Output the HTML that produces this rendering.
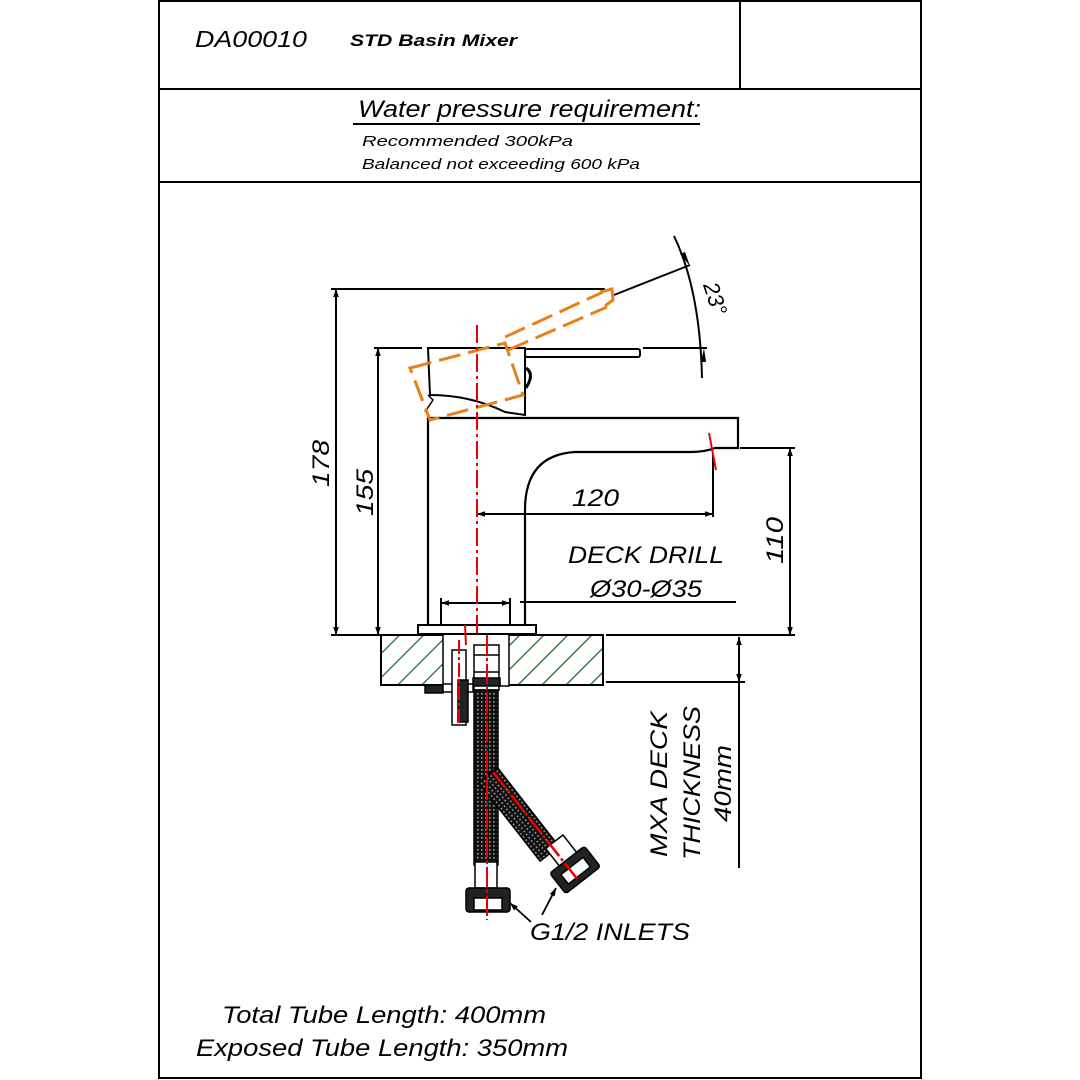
<!DOCTYPE html>
<html><head><meta charset="utf-8"><style>
html,body{margin:0;padding:0;background:#fff}
svg{display:block}
text{font-family:"Liberation Sans",Arial,sans-serif;font-style:italic}
</style></head><body>
<svg width="1080" height="1080" viewBox="0 0 1080 1080" xmlns="http://www.w3.org/2000/svg">
<defs>
<pattern id="hatch" width="17" height="17" patternUnits="userSpaceOnUse" patternTransform="rotate(45)">
<line x1="0" y1="0" x2="0" y2="17" stroke="#16602a" stroke-width="2.4"/>
</pattern>
<pattern id="mesh" width="4" height="4" patternUnits="userSpaceOnUse">
<rect width="4" height="4" fill="#111"/><rect x="1" y="1" width="1.6" height="1.6" fill="#999"/>
</pattern>
<marker id="ar" viewBox="0 0 10 10" refX="10" refY="5" markerWidth="14" markerHeight="8" orient="auto-start-reverse" markerUnits="userSpaceOnUse">
<path d="M0,1.5 L10,5 L0,8.5 z" fill="#000"/>
</marker>
</defs>

<!-- frame -->
<g stroke="#000" stroke-width="2" fill="none">
<rect x="159" y="1" width="762" height="1077"/>
<line x1="159" y1="89" x2="921" y2="89"/>
<line x1="159" y1="182" x2="921" y2="182"/>
<line x1="740" y1="1" x2="740" y2="89"/>
</g>
<text x="195" y="47" font-size="23" textLength="112" lengthAdjust="spacingAndGlyphs">DA00010</text>
<text x="350" y="46" font-size="17" font-weight="bold" textLength="167" lengthAdjust="spacingAndGlyphs">STD Basin Mixer</text>
<text x="358" y="117" font-size="24" textLength="343" lengthAdjust="spacingAndGlyphs">Water pressure requirement:</text>
<line x1="353" y1="124" x2="700" y2="124" stroke="#000" stroke-width="2"/>
<text x="362" y="146" font-size="15" textLength="211" lengthAdjust="spacingAndGlyphs">Recommended 300kPa</text>
<text x="362" y="169" font-size="15" textLength="278" lengthAdjust="spacingAndGlyphs">Balanced not exceeding 600 kPa</text>

<!-- deck -->
<rect x="381" y="635" width="222" height="50" fill="url(#hatch)" stroke="#000" stroke-width="2"/>
<rect x="443" y="634" width="66" height="52" fill="#fff" stroke="#000" stroke-width="1.5"/>

<g stroke="#000" fill="none" stroke-width="2">
<!-- extension lines -->
<line x1="331" y1="289" x2="605" y2="289"/>
<line x1="374" y1="348" x2="422" y2="348"/>
<line x1="643" y1="348" x2="707" y2="348"/>
<line x1="331" y1="635" x2="418" y2="635"/>
<line x1="606" y1="635" x2="795" y2="635"/>
<line x1="606" y1="682" x2="745" y2="682"/>
<line x1="740" y1="448" x2="795" y2="448"/>
<line x1="713" y1="455" x2="713" y2="517"/>
<line x1="520" y1="602" x2="736" y2="602"/>
<line x1="441" y1="598" x2="441" y2="625"/>
<line x1="510" y1="598" x2="510" y2="625"/>
<!-- dimension lines -->
<line x1="336" y1="289" x2="336" y2="635" marker-start="url(#ar)" marker-end="url(#ar)"/>
<line x1="378" y1="348" x2="378" y2="635" marker-start="url(#ar)" marker-end="url(#ar)"/>
<line x1="477" y1="514" x2="713" y2="514" marker-start="url(#ar)" marker-end="url(#ar)"/>
<line x1="790" y1="448" x2="790" y2="635" marker-start="url(#ar)" marker-end="url(#ar)"/>
<line x1="441" y1="603" x2="510" y2="603" marker-start="url(#ar)" marker-end="url(#ar)"/>
<line x1="739" y1="637" x2="739" y2="682" marker-start="url(#ar)" marker-end="url(#ar)"/>
<line x1="739" y1="682" x2="739" y2="868"/>
<!-- angle -->
<line x1="614" y1="295" x2="690" y2="265"/>
<path d="M674,236 Q700,290 702,378"/>
<path d="M690,266 l-10,-12 l5,-2 z" fill="#000" stroke="none"/>
<path d="M704,348 l-3,14 l5,0 z" fill="#000" stroke="none"/>

<!-- body -->
<path d="M428,630 L428,418 L738,418 L738,448 L715,448 Q705,452 690,452 L575,452 Q525,455 525,510 L525,628" stroke-width="2.2"/>
<rect x="418" y="625" width="118" height="9" fill="#fff"/>
<!-- handle -->
<path d="M428,348 L525,348 L525,415 L505,412 Q470,395 430,395 Z" fill="#fff"/>
<path d="M428,395 L433,400 L425,412" stroke-width="1.5"/>
<rect x="525" y="349" width="115" height="8" rx="2"/>
<path d="M526,368 q9,6 0,20" stroke-width="3"/>
</g>

<!-- orange lever -->
<g stroke="#e9801c" stroke-width="3" fill="none" stroke-dasharray="22,8">
<path d="M410,368 L505,343 L523,395 L430,420 Z"/>
<line x1="505" y1="337" x2="603" y2="292"/>
<line x1="508" y1="350" x2="607" y2="307"/>
<path d="M600,292 L612,289 L613,300 L605,306" stroke-dasharray="none"/>
</g>

<!-- red centerline -->
<line x1="477" y1="325" x2="477" y2="635" stroke="#e00" stroke-width="2" stroke-dasharray="18,4,3,4"/>
<line x1="709" y1="433" x2="716" y2="470" stroke="#e00" stroke-width="2"/>

<!-- tubes -->
<g stroke="#000" stroke-width="1.5">
<rect x="474" y="645" width="25" height="45" fill="#fff"/>
<line x1="474" y1="655" x2="499" y2="655"/><line x1="474" y1="672" x2="499" y2="672"/>
<rect x="473" y="678" width="27" height="8" fill="#222"/>
<rect x="474" y="690" width="24" height="175" fill="url(#mesh)"/>
<g transform="rotate(-38 488 775)"><rect x="476" y="775" width="24" height="100" fill="url(#mesh)"/></g>
<rect x="475" y="862" width="22" height="26" fill="#fff"/>
<rect x="466" y="888" width="44" height="24" fill="#222" rx="3"/>
<rect x="474" y="898" width="28" height="12" fill="#fff"/>
<g transform="rotate(-38 572 866)">
<rect x="562" y="836" width="22" height="24" fill="#fff"/>
<rect x="550" y="858" width="44" height="26" fill="#222" rx="3"/>
<rect x="558" y="866" width="28" height="12" fill="#fff"/>
</g>
<!-- side bolt -->
<rect x="425" y="685" width="18" height="8" fill="#222"/>
<rect x="443" y="684" width="30" height="8" fill="#fff"/>
<rect x="452" y="650" width="14" height="75" fill="#fff"/>
<rect x="458" y="680" width="10" height="42" fill="#222"/>
</g>
<line x1="459" y1="640" x2="459" y2="725" stroke="#e00" stroke-width="2" stroke-dasharray="14,3,3,3"/>
<line x1="487" y1="635" x2="487" y2="920" stroke="#e00" stroke-width="2" stroke-dasharray="20,3,3,3"/>
<line x1="465" y1="625" x2="466" y2="645" stroke="#e00" stroke-width="2"/>
<line x1="493" y1="772" x2="578" y2="880" stroke="#e00" stroke-width="2.5" stroke-dasharray="20,3,3,3"/>

<!-- leaders -->
<g stroke="#000" stroke-width="1.8">
<line x1="531" y1="922" x2="510" y2="903" marker-end="url(#ar)"/>
<line x1="542" y1="915" x2="556" y2="888" marker-end="url(#ar)"/>
</g>

<!-- labels -->
<text x="530" y="940" font-size="24" textLength="160" lengthAdjust="spacingAndGlyphs">G1/2 INLETS</text>
<text x="572" y="506" font-size="24" textLength="47" lengthAdjust="spacingAndGlyphs">120</text>
<text x="568" y="563" font-size="24" textLength="156" lengthAdjust="spacingAndGlyphs">DECK DRILL</text>
<text x="590" y="597" font-size="24" textLength="112" lengthAdjust="spacingAndGlyphs">Ø30-Ø35</text>
<text transform="translate(329,487) rotate(-90)" font-size="24" textLength="47" lengthAdjust="spacingAndGlyphs">178</text>
<text transform="translate(373,516) rotate(-90)" font-size="24" textLength="47" lengthAdjust="spacingAndGlyphs">155</text>
<text transform="translate(783,564) rotate(-90)" font-size="24" textLength="47" lengthAdjust="spacingAndGlyphs">110</text>
<text transform="translate(703,285) rotate(72)" font-size="22">23°</text>
<text transform="translate(667,857) rotate(-90)" font-size="24" textLength="146" lengthAdjust="spacingAndGlyphs">MXA DECK</text>
<text transform="translate(700,860) rotate(-90)" font-size="24" textLength="154" lengthAdjust="spacingAndGlyphs">THICKNESS</text>
<text transform="translate(731,822) rotate(-90)" font-size="24" textLength="77" lengthAdjust="spacingAndGlyphs">40mm</text>
<text x="222" y="1023" font-size="24" textLength="324" lengthAdjust="spacingAndGlyphs">Total Tube Length: 400mm</text>
<text x="196" y="1056" font-size="24" textLength="372" lengthAdjust="spacingAndGlyphs">Exposed Tube Length: 350mm</text>
</svg>
</body></html>
